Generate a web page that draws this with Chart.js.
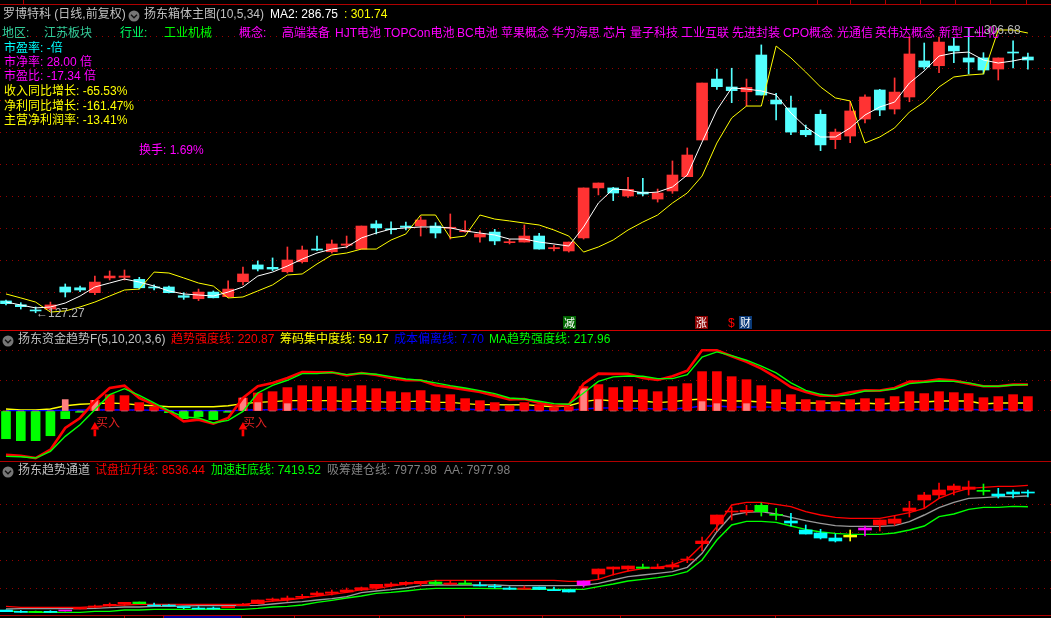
<!DOCTYPE html>
<html><head><meta charset="utf-8">
<script src="https://cdn.jsdelivr.net/npm/chart.js@4"></script>
<style>
html,body{margin:0;padding:0;background:#000;width:1051px;height:618px;overflow:hidden}
canvas{position:absolute;left:0}
.t{position:absolute;white-space:pre;font:12px/16px 'Liberation Sans','Noto Sans CJK SC',sans-serif}
.tag{position:absolute;width:13px;height:13px;font:11px/13px 'Noto Sans CJK SC',sans-serif;color:#fff;text-align:center}
.r{position:absolute}
</style></head><body>
<script>
// ---- main pane: price candles
const priceOpen=[134.7,132.3,129.0,129.6,143.5,143.0,139.9,149.2,149.6,148.3,143.5,143.5,138.0,136.1,140.3,137.4,146.8,157.4,155.9,153.1,159.4,167.4,165.7,169.8,167.4,183.2,180.2,181.9,181.9,181.9,180.5,178.3,175.0,178.1,171.4,171.8,175.6,167.6,166.2,174.4,205.9,205.9,200.8,203.3,198.9,204.0,213.0,236.1,274.5,269.5,266.5,289.65,261.3,256.3,242.2,252.3,236.3,238.6,249.3,267.6,255.6,263.2,285.9,282.9,295.3,287.8,287.8,280.8,291.5,288.4];
const priceClose=[133.0,131.1,128.4,132.2,140.3,141.6,146.6,150.4,150.4,143.0,142.9,139.9,137.0,140.3,136.7,142.2,151.7,154.8,154.8,160.5,166.8,166.8,170.6,170.6,181.9,180.7,179.6,181.1,185.7,177.5,181.1,179.0,176.9,172.5,171.8,175.6,167.4,168.3,171.8,205.9,209.0,202.7,205.0,202.1,202.7,214.05,226.65,272.0,269.7,267.2,269.3,264.45,258.8,241.1,239.4,233.0,241.1,254.4,263.2,255.0,266.3,290.3,282.1,297.8,292.2,285.2,280.2,287.8,290.9,286.5];
const priceHigh=[135.3,133.6,130.9,134.0,145.4,144.1,150.4,153.6,154.2,149.6,144.8,144.1,139.9,142.2,141.0,147.3,156.1,159.9,161.8,168.7,169.3,175.6,173.1,175.6,181.9,185.3,184.6,184.4,187.8,184.0,189.5,185.1,178.8,179.8,173.5,182.6,177.3,169.8,171.8,205.9,209.0,206.3,212.6,212.0,205.2,222.9,231.1,272.0,280.8,281.3,274.5,296.0,265.5,263.8,245.5,255.0,243.0,260.2,264.5,268.0,275.2,301.2,297.2,301.0,300.4,306.68,291.1,287.8,298.5,290.9];
const priceLow=[132.2,129.6,127.27,128.4,137.2,140.5,138.6,147.9,147.9,142.2,141.6,139.7,135.7,134.9,136.6,137.0,144.75,153.6,153.8,152.3,158.6,166.4,164.9,168.1,167.4,176.9,176.9,179.4,175.6,174.4,173.7,178.1,171.8,170.1,170.6,171.8,167.4,166.2,165.5,173.7,201.5,197.9,200.0,200.8,197.0,202.5,213.0,236.1,268.0,259.6,257.5,264.45,248.7,239.4,238.2,229.4,230.6,234.4,246.8,251.4,252.5,260.2,280.8,278.5,284.8,277.7,277.7,273.9,281.5,280.8];
const ma1White=[134.04,132.15,130.3,130.9,133.4,137.8,143.5,146.0,148.5,146.6,144.1,141.0,139.1,138.45,137.8,140.3,143.5,150.4,152.9,156.7,161.1,164.9,167.4,168.7,174.4,177.5,180.0,180.7,181.3,181.3,180.7,178.8,177.5,176.25,173.7,173.7,171.8,170.6,169.3,181.3,196.4,205.2,204.6,202.7,203.3,206.5,214.05,234.8,255.0,268.9,268.2,267.0,264.45,253.1,244.3,238.0,238.0,243.7,251.85,256.9,260.0,272.0,279.6,289.0,290.9,291.5,286.5,284.6,285.9,287.8];
const ma2Yellow=[139.1,136.6,134.0,127.7,128.4,130.9,134.0,137.8,141.6,142.2,152.9,152.3,149.2,146.0,144.1,136.6,137.2,141.0,144.8,151.05,151.7,158.0,163.65,164.9,167.4,167.4,173.1,176.9,188.85,188.85,174.4,175.6,188.85,186.3,185.1,183.8,182.55,179.4,175.6,165.5,168.7,173.1,179.4,184.4,188.85,196.4,202.7,213.4,234.2,250.0,257.5,257.5,295.3,287.8,278.9,269.5,262.6,260.7,234.2,238.0,243.7,253.7,260.0,269.5,275.8,277.05,277.7,305.4,305.4,303.5];
// ---- middle pane: fund trend
const fundBars=[-231,-247,-247,-206,-64,-11,89,136,128,70,33,-14,-64,-47,-72,-11,108,150,161,195,211,203,203,186,211,186,161,153,170,136,136,103,86,70,44,70,53,28,36,203,220,195,203,178,161,203,228,328,328,286,261,211,178,136,95,86,78,95,103,103,120,161,145,161,153,145,111,120,136,120];
const fundPink=[0,0,0,0,95,0,89,0,0,0,0,0,0,0,0,0,108,70,0,61,0,0,0,0,0,0,0,0,0,0,0,0,0,0,0,0,0,0,0,186,95,0,0,0,0,0,0,78,61,0,61,0,0,0,0,0,0,0,0,0,0,0,0,0,0,0,0,0,0,0];
const trendRed=[-364,-373,-392,-322,-142,-58,81,192,211,108,53,-3,-86,-72,-106,-58,108,206,234,275,325,322,322,297,317,300,275,256,256,214,197,178,158,128,97,100,67,44,53,228,311,309,309,275,259,289,336,506,506,456,409,353,281,200,158,128,128,156,172,170,192,245,245,264,253,228,206,206,220,220];
const trendGreen=[-378,-381,-392,-336,-211,-114,11,136,186,131,67,3,-50,-58,-100,-78,-3,150,214,256,311,311,322,303,314,306,286,267,256,234,211,192,170,145,108,100,81,61,56,150,247,284,292,289,270,270,303,450,492,461,423,373,317,234,172,139,122,136,167,170,183,228,239,250,247,234,206,206,217,220];
const chipYellow=[17,8,8,17,44,56,61,67,61,50,44,36,36,36,36,44,61,72,78,86,86,86,86,78,83,78,72,78,83,72,72,61,53,53,50,53,44,36,44,78,95,83,83,83,70,78,92,100,92,83,83,75,67,67,67,67,67,58,67,58,67,75,75,83,83,83,58,67,67,67];
const costBlue=[3,3,3,3,6,8,8,11,8,8,6,3,3,3,3,3,6,11,11,14,17,17,17,17,20,22,22,22,17,22,17,14,11,8,6,8,3,3,6,17,25,25,22,22,17,17,25,42,42,33,33,33,33,11,6,3,3,6,8,8,8,14,14,14,17,14,8,14,14,8];
const buySignals=[6,16];
const buyShaft=[-158,-208];
const buyHead=-133;
// ---- lower pane: trend channel
const chanTop=[2028,1924,1924,1924,2005,2150,2237,2324,2428,2446,2272,2254,2185,2115,2132,2219,2324,2550,2602,2654,2741,2915,2968,3072,3194,3368,3385,3472,3524,3490,3437,3437,3333,3281,3176,3176,3229,3089,3089,3542,4168,4272,4325,4272,4272,4377,4673,5630,6987,7196,7231,7492,7022,6674,6204,6047,5786,5926,6308,6726,6778,7352,8031,8292,8501,8449,8275,8083,8188,8188];
const chanBottom=[1941,1906,1906,1906,1976,2080,2167,2254,2341,2359,2237,2237,2150,2080,2080,2150,2254,2359,2550,2567,2689,2811,2898,2968,3072,3194,3298,3385,3403,3385,3368,3368,3281,3229,3107,3107,3107,3037,2968,3333,3907,4168,4168,4203,4186,4272,4638,5491,6517,7144,7144,7161,6970,6569,5995,5786,5630,5839,6204,6465,6552,7196,7770,8031,8292,8327,8222,7979,8083,8135];
const chanHigh=[2028,2005,1976,1993,2005,2150,2289,2393,2428,2446,2393,2306,2185,2202,2185,2219,2376,2550,2654,2759,2846,2985,3072,3176,3229,3368,3455,3507,3524,3559,3559,3559,3490,3368,3246,3281,3229,3229,3089,3542,4168,4272,4325,4429,4429,4534,4812,5839,6987,7405,7492,7613,7335,7074,6465,6239,5995,6204,6413,6726,6970,7700,8170,8657,8605,8762,8605,8379,8292,8292];
const chanLow=[1941,1906,1906,1906,1976,2080,2150,2219,2272,2359,2237,2237,2098,2080,2080,2150,2254,2359,2480,2480,2620,2759,2811,2933,3037,3107,3229,3316,3298,3298,3368,3368,3281,3176,3107,3107,3107,3037,2968,3229,3629,3855,4064,4203,4186,4168,4499,5108,6169,6726,6987,6935,6726,6413,5995,5734,5578,5630,5891,6152,6448,6883,7352,7874,8031,8031,8031,7874,7874,7927];
const chanKind=['c','c','g','c','m','r','r','r','r','g','c','c','c','c','c','r','r','r','r','r','r','r','r','r','r','r','r','r','r','g','r','g','c','c','c','r','c','c','c','m','r','r','r','g','r','r','r','r','r','r','r','g','g','c','c','c','c','y','m','r','r','r','r','r','r','r','g','c','c','c'];
const channelRed=[2219,2167,2167,2167,2167,2167,2202,2254,2289,2324,2324,2324,2324,2324,2324,2324,2324,2411,2498,2550,2654,2759,2846,2950,3089,3142,3281,3385,3490,3577,3577,3577,3577,3577,3577,3577,3577,3577,3524,3524,3629,3872,4064,4186,4255,4377,4673,5421,6378,7509,7648,7648,7544,7422,7161,6987,6865,6813,6813,6813,6952,7109,7335,7857,8153,8379,8431,8483,8483,8536];
const channelGrey=[2080,2098,2098,2098,2098,2098,2115,2150,2185,2185,2219,2219,2237,2254,2254,2254,2254,2272,2341,2411,2463,2550,2620,2724,2933,3020,3089,3176,3298,3333,3333,3333,3333,3333,3298,3298,3298,3298,3298,3316,3420,3594,3768,3855,3942,4029,4255,4986,6117,6987,7126,7161,7040,6865,6691,6552,6430,6395,6395,6395,6430,6639,6987,7370,7648,7857,7892,7944,7944,7978];
const channelGreen=[1976,1941,1906,1906,1906,1906,1958,1958,2028,2028,2063,2063,2063,2063,2063,2063,2063,2115,2185,2219,2289,2428,2533,2654,2759,2898,2950,3020,3107,3159,3159,3159,3159,3142,3142,3107,3107,3107,3107,3107,3246,3385,3542,3629,3716,3838,4029,4638,5682,6465,6656,6656,6604,6413,6239,6100,6030,5978,5978,5978,6047,6204,6413,6900,7040,7283,7387,7387,7439,7420];

const RED='#ff3333',CYAN='#54ffff';
const KIND={r:'#ff0000',g:'#00ff00',c:'#00ffff',m:'#ff00ff',y:'#ffff00'};
const X_MIN=-0.405,X_MAX=70.56;
const xy=a=>a.map((y,x)=>({x,y}));
const rng=(a,b)=>a.map((v,x)=>({x,y:[v,b[x]]}));
const line=(data,color,width,order,extra)=>Object.assign({type:'line',data:xy(data),borderColor:color,borderWidth:width,pointRadius:0,tension:0,order,fill:false},extra||{});
const bar=(data,color,thick,order,extra)=>Object.assign({type:'bar',data,backgroundColor:color,borderWidth:0,barThickness:thick,grouped:false,order},extra||{});

function pane(top,height,min,max,gridVals,datasets){
  const c=document.createElement('canvas');
  c.width=1051;c.height=height;c.style.top=top+'px';c.style.width='1051px';c.style.height=height+'px';
  document.body.appendChild(c);
  new Chart(c,{type:'bar',data:{datasets},options:{
    responsive:false,animation:false,devicePixelRatio:1,
    layout:{padding:0,autoPadding:false},
    plugins:{legend:{display:false},tooltip:{enabled:false}},
    scales:{
      x:{type:'linear',min:X_MIN,max:X_MAX,offset:false,display:false},
      y:{type:'linear',min,max,
        ticks:{display:false},
        border:{display:false,dash:[1,5]},
        grid:{color:'#960000',lineWidth:1,drawTicks:false},
        afterBuildTicks:s=>{s.ticks=gridVals.map(value=>({value}))},
        afterFit:s=>{s.width=0}
      }
    }
  }});
}

const priceColors=priceOpen.map((o,i)=>priceClose[i]>=o?RED:CYAN);
pane(5,325,116.4,321.15,[301.6,281.44,261.28,241.12,220.96,200.8,180.64,160.48,140.32],[
  bar(rng(priceLow,priceHigh),priceColors,1,5),
  bar(rng(priceOpen,priceClose),priceColors,11,4,{minBarLength:1}),
  line(ma2Yellow,'#ffff00',1,2),
  line(ma1White,'#ffffff',1,1)
]);

pane(331,129,-408.2,666.4,[0,250,500],[
  line(chipYellow,'#ffff00',1.4,9),
  line(costBlue,'#0000ff',1.4,8),
  bar(xy(fundBars),fundBars.map(v=>v>=0?'#ff0000':'#00ff00'),9,7),
  bar(xy(fundPink),'#ff8080',6,6),
  line(trendGreen,'#00ff00',1.4,2),
  line(trendRed,'#ff0000',2.6,3),
  bar(buySignals.map(x=>({x,y:buyShaft})),'#ff0000',2,1),
  {type:'scatter',data:buySignals.map(x=>({x,y:buyHead})),pointStyle:'triangle',pointRadius:5,pointBackgroundColor:'#ff0000',pointBorderWidth:0,order:0}
]);

const chanColors=chanKind.map(k=>KIND[k]);
pane(462,153,1767,9754,[7544,6082,4621,3159],[
  line(channelGreen,'#00ff00',1.4,6),
  line(channelGrey,'#9a9a9a',1.4,5),
  line(channelRed,'#ff0000',1.4,4),
  bar(rng(chanLow,chanHigh),chanColors,1,3),
  bar(rng(chanBottom,chanTop),chanColors,13,2,{minBarLength:1})
]);

// ---- frame
function rect(x,y,w,h,c){const d=document.createElement('div');d.className='r';d.style.cssText=`left:${x}px;top:${y}px;width:${w}px;height:${h}px;background:${c}`;document.body.appendChild(d)}
rect(0,4,1051,1,'#b00000');rect(0,330,1051,1,'#d00000');rect(0,461,1051,1,'#b00000');rect(0,615,1051,1,'#b00000');
[23,817,850,885,920,955,990,1026].forEach(x=>rect(x,0,1,4,'#b00000'));
rect(163,616,78,2,'#0000a0');
[124,163,241,294,379,464,542,620,775].forEach(x=>rect(x,616,1,2,'#b00000'));

// ---- text
function txt(s,x,cy,c){const d=document.createElement('div');d.className='t';d.textContent=s;d.style.left=x+'px';d.style.top=(cy-8)+'px';d.style.color=c;document.body.appendChild(d)}
const G='#c0c0c0',M='#ff00ff',Y='#ffff00';
txt('罗博特科 (日线,前复权)',3,14,G);
txt('扬东箱体主图(10,5,34)',144,14,G);
txt('MA2: 286.75',270,14,'#ffffff');
txt(': 301.74',344,14,Y);
txt('地区:',2,33,'#33cc99');txt('江苏板块',44,33,'#33cc99');
txt('行业:',120,33,'#00ff66');txt('工业机械',164,33,'#00ff00');
txt('概念:',239,33,M);
[['高端装备',282],['HJT电池',335],['TOPCon电池',384],['BC电池',457],['苹果概念',501],['华为海思',552],['芯片',603],['量子科技',630],['工业互联',681],['先进封装',732],['CPO概念',783],['光通信',837],['英伟达概念',875],['新型工业化',939]].forEach(([s,x])=>txt(s,x,33,M));
txt('市盈率: -倍',4,48,'#00ffff');
txt('市净率: 28.00 倍',4,62,M);
txt('市盈比: -17.34 倍',4,76,M);
txt('收入同比增长: -65.53%',4,91,Y);
txt('净利同比增长: -161.47%',4,106,Y);
txt('主营净利润率: -13.41%',4,120,Y);
txt('换手: 1.69%',139,150,M);
txt('←127.27',36,313,'#b8b8b8');
txt('←306.68',972,30,'#b8b8b8');
txt('扬东资金趋势F(5,10,20,3,6)',18,339,G);
txt('趋势强度线: 220.87',171,339,'#ff0000');
txt('筹码集中度线: 59.17',280,339,Y);
txt('成本偏离线: 7.70',394,339,'#0000ff');
txt('MA趋势强度线: 217.96',489,339,'#00ff00');
txt('扬东趋势通道',18,470,G);
txt('试盘拉升线: 8536.44',95,470,'#ff0000');
txt('加速赶底线: 7419.52',211,470,'#00ff00');
txt('吸筹建仓线: 7977.98',327,470,'#808080');
txt('AA: 7977.98',444,470,'#808080');
txt('买入',96,423,'#e02020');
txt('买入',243,423,'#e02020');

function tag(s,x,bg){const d=document.createElement('div');d.className='tag';d.textContent=s;d.style.left=x+'px';d.style.top='316px';d.style.background=bg;document.body.appendChild(d)}
tag('减',563,'#006400');tag('涨',695,'#8a0000');tag('财',739,'#0a3a78');
txt('$',728,323,'#ff0000');

// ---- section icons
function icon(cx,cy){const d=document.createElement('div');d.className='r';d.style.cssText=`left:${cx-6}px;top:${cy-6}px;width:12px;height:12px`;
 d.innerHTML='<svg width="12" height="12"><circle cx="6" cy="6" r="5.5" fill="#777"/><path d="M3 4.8 L6 7.8 L9 4.8" stroke="#111" stroke-width="1.3" fill="none"/></svg>';document.body.appendChild(d)}
icon(134,14);icon(8,339);icon(8,470);
</script>
</body></html>
